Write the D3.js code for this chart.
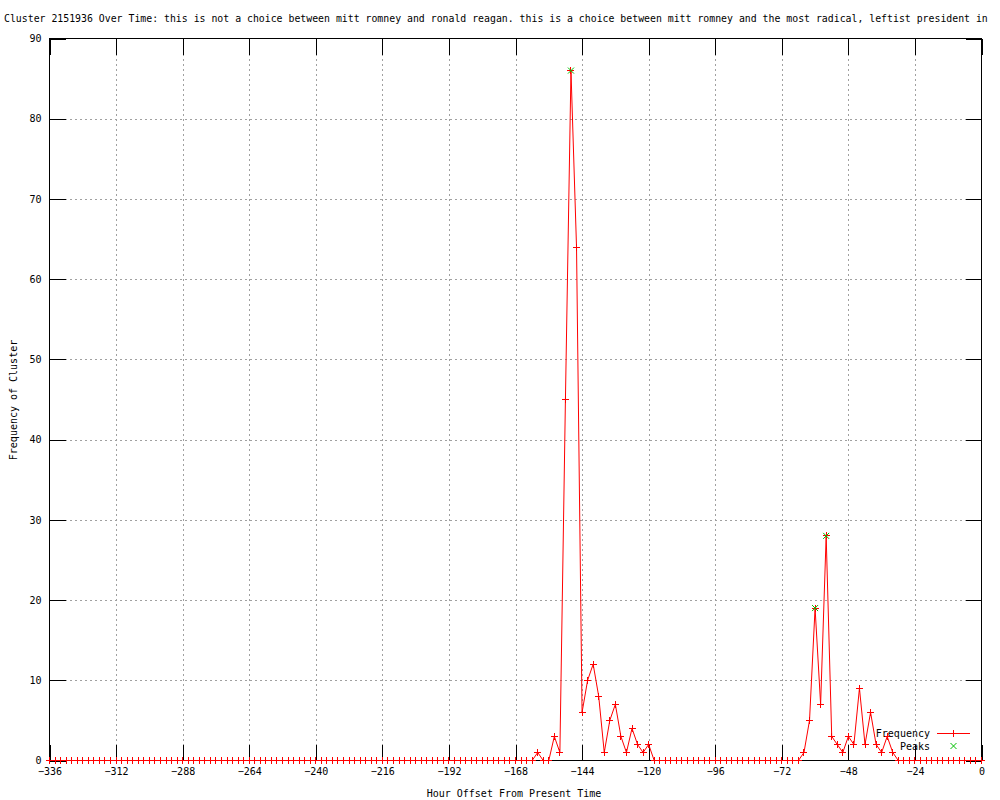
<!DOCTYPE html>
<html>
<head>
<meta charset="utf-8">
<script src="https://cdn.jsdelivr.net/npm/d3@7"></script>
<style>
  body { margin: 0; background: #fff; }
  svg { display: block; font-family: "DejaVu Sans Mono", "Liberation Mono", monospace; font-size: 10px; }
  .grid line { stroke: #a0a0a0; stroke-dasharray: 2,3; }
  .axis .tick line { stroke: #000; }
</style>
</head>
<body>
<div id="chart"></div>
<script>
var titleText = "Cluster 2151936 Over Time: this is not a choice between mitt romney and ronald reagan. this is a choice between mitt romney and the most radical, leftist president in";

// one sample every 2 hours, -336 .. 0
var hours = d3.range(-336, 1, 2);
var frequency = [
  0,0,0,0,0,0,0,0,0,0,0,0,        // -336 .. -314
  0,0,0,0,0,0,0,0,0,0,0,0,        // -312 .. -290
  0,0,0,0,0,0,0,0,0,0,0,0,        // -288 .. -266
  0,0,0,0,0,0,0,0,0,0,0,0,        // -264 .. -242
  0,0,0,0,0,0,0,0,0,0,0,0,        // -240 .. -218
  0,0,0,0,0,0,0,0,0,0,0,0,        // -216 .. -194
  0,0,0,0,0,0,0,0,0,0,0,0,        // -192 .. -170
  0,0,0,0,1,0,0,3,1,45,86,64,     // -168 .. -146
  6,10,12,8,1,5,7,3,1,4,2,1,      // -144 .. -122
  2,0,0,0,0,0,0,0,0,0,0,0,        // -120 .. -98
  0,0,0,0,0,0,0,0,0,0,0,0,        // -96 .. -74
  0,0,0,0,1,5,19,7,28,3,2,1,      // -72 .. -50
  3,2,9,2,6,2,1,3,1,0,0,0,        // -48 .. -26
  0,0,0,0,0,0,0,0,0,0,0,0,        // -24 .. -2
  0                               // 0
];
var peakHours = [-148, -60, -56];
var peakValues = [86, 19, 28];

var xTicks = d3.range(-336, 1, 24);
var yTicks = d3.range(0, 91, 10);

function drawChart() {
  var W = 1000, H = 800;
  // note: "top" is reserved on window, so keep these in a local object
  var plot = {left: 49.5, right: 981.5, top: 38.5, bottom: 760.5};

  var x = d3.scaleLinear().domain([-336, 0]).range([plot.left, plot.right]);
  var y = d3.scaleLinear().domain([0, 90]).range([plot.bottom, plot.top]);

  var svg = d3.select("#chart").append("svg")
      .attr("width", W)
      .attr("height", H);

  // grid
  svg.append("g")
      .attr("class", "grid")
      .attr("transform", "translate(0," + plot.bottom + ")")
      .call(d3.axisBottom(x).tickValues(xTicks.slice(1, -1)).tickSize(-(plot.bottom - plot.top)).tickFormat(""))
      .call(function(g) { g.select(".domain").remove(); });
  svg.append("g")
      .attr("class", "grid")
      .attr("transform", "translate(" + plot.left + ",0)")
      .call(d3.axisLeft(y).tickValues(yTicks.slice(1, -1)).tickSize(-(plot.right - plot.left)).tickFormat(""))
      .call(function(g) { g.select(".domain").remove(); });
  svg.selectAll(".grid line").attr("shape-rendering", "crispEdges");

  // axes, ticks pointing inward, mirrored on top/right
  var xAxis = svg.append("g")
      .attr("class", "axis")
      .attr("transform", "translate(0," + plot.bottom + ")")
      .call(d3.axisBottom(x).tickValues(xTicks).tickSizeInner(-16).tickSizeOuter(0).tickPadding(7)
        .tickFormat(function(d) { return d < 0 ? "\u2212" + (-d) : d; }));
  xAxis.select(".domain").remove();
  xAxis.selectAll("text").attr("fill", "#000").style("font-size", "10px").style("font-family", "DejaVu Sans Mono");

  var yAxis = svg.append("g")
      .attr("class", "axis")
      .attr("transform", "translate(" + plot.left + ",0)")
      .call(d3.axisLeft(y).tickValues(yTicks).tickSizeInner(-16).tickSizeOuter(0).tickPadding(8));
  yAxis.select(".domain").remove();
  yAxis.selectAll("text").attr("fill", "#000").style("font-size", "10px").style("font-family", "DejaVu Sans Mono");

  svg.append("g")
      .attr("class", "axis")
      .attr("transform", "translate(0," + plot.top + ")")
      .call(d3.axisTop(x).tickValues(xTicks).tickSizeInner(-16).tickSizeOuter(0).tickFormat(""))
      .select(".domain").remove();
  svg.append("g")
      .attr("class", "axis")
      .attr("transform", "translate(" + plot.right + ",0)")
      .call(d3.axisRight(y).tickValues(yTicks).tickSizeInner(-16).tickSizeOuter(0).tickFormat(""))
      .select(".domain").remove();
  svg.selectAll(".axis .tick line").attr("shape-rendering", "crispEdges");

  // border
  svg.append("rect")
      .attr("x", plot.left).attr("y", plot.top)
      .attr("width", plot.right - plot.left).attr("height", plot.bottom - plot.top)
      .attr("fill", "none").attr("stroke", "#000")
      .attr("shape-rendering", "crispEdges");

  // titles
  svg.append("text")
      .attr("x", 4).attr("y", 22)
      .style("font-size", "9.85px")
      .text(titleText);
  svg.append("text")
      .attr("x", 514).attr("y", 797)
      .attr("text-anchor", "middle")
      .text("Hour Offset From Present Time");
  svg.append("text")
      .attr("transform", "translate(17,400) rotate(-90)")
      .attr("text-anchor", "middle")
      .text("Frequency of Cluster");

  // frequency line
  var data = hours.map(function(h, i) { return {h: h, v: frequency[i]}; });
  var line = d3.line().x(function(d) { return x(d.h); }).y(function(d) { return y(d.v); });

  svg.append("path")
      .datum(data)
      .attr("d", line)
      .attr("fill", "none")
      .attr("stroke", "#ff0000")
      .attr("stroke-width", 1);

  function plus(s) { return "M" + (-s) + ",0H" + s + "M0," + (-s) + "V" + s; }
  function cross(s) { return "M" + (-s) + "," + (-s) + "L" + s + "," + s + "M" + (-s) + "," + s + "L" + s + "," + (-s); }

  svg.append("g").selectAll("path")
      .data(data)
      .enter().append("path")
      .attr("transform", function(d) { return "translate(" + (Math.round(x(d.h) - 0.5) + 0.5) + "," + (Math.round(y(d.v) - 0.5) + 0.5) + ")"; })
      .attr("d", plus(3.5))
      .attr("fill", "none")
      .attr("stroke", "#ff0000")
      .attr("shape-rendering", "crispEdges");

  // peaks
  svg.append("g").selectAll("path")
      .data(peakHours)
      .enter().append("path")
      .attr("transform", function(d, i) { return "translate(" + x(d) + "," + y(peakValues[i]) + ")"; })
      .attr("d", cross(3))
      .attr("fill", "none")
      .attr("stroke", "#00c000");

  // legend
  var lg = svg.append("g");
  lg.append("text").attr("x", 930).attr("y", 733).attr("dy", "0.35em").attr("text-anchor", "end").text("Frequency");
  lg.append("path").attr("d", "M937,733.5H970")
      .attr("fill", "none").attr("stroke", "#ff0000").attr("shape-rendering", "crispEdges");
  lg.append("path").attr("transform", "translate(953.5,733.5)").attr("d", plus(3.5))
      .attr("fill", "none").attr("stroke", "#ff0000").attr("shape-rendering", "crispEdges");
  lg.append("text").attr("x", 930).attr("y", 746).attr("dy", "0.35em").attr("text-anchor", "end").text("Peaks");
  lg.append("path").attr("transform", "translate(953.5,746)").attr("d", cross(3))
      .attr("fill", "none").attr("stroke", "#00c000");
}

drawChart();
</script>
</body>
</html>
